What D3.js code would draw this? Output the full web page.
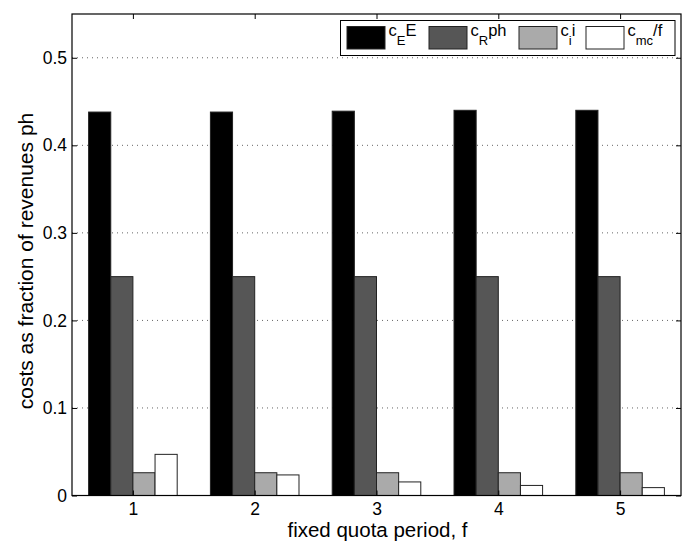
<!DOCTYPE html>
<html>
<head>
<meta charset="utf-8">
<script src="https://cdn.jsdelivr.net/npm/d3@7"></script>
<style>
  html, body { margin: 0; padding: 0; background: #fff; }
  svg { display: block; font-family: "Liberation Sans", Arial, Helvetica, sans-serif; }
</style>
</head>
<body>
<svg id="chart" width="685" height="551"></svg>
<script>
// Fixed quota periods on the x axis
const periods = [1, 2, 3, 4, 5];

// Cost components as fraction of revenues ph
const costEnergy   = [0.438, 0.438, 0.439, 0.440, 0.440];    // c_E E
const costRevenue  = [0.250, 0.250, 0.250, 0.250, 0.250];    // c_R ph
const costInterest = [0.026, 0.026, 0.026, 0.026, 0.026];    // c_i i
const costMC       = [0.047, 0.0235, 0.0155, 0.0115, 0.009]; // c_mc / f

const seriesValues = [costEnergy, costRevenue, costInterest, costMC];
const seriesFills = ["#000000", "#565656", "#aaaaaa", "#ffffff"];
const legendLabels = [
  { base: "c", sub: "E", rest: "E" },
  { base: "c", sub: "R", rest: "ph" },
  { base: "c", sub: "i", rest: "i" },
  { base: "c", sub: "mc", rest: "/f" }
];
const yTicks = [0, 0.1, 0.2, 0.3, 0.4, 0.5];
const yTickLabels = ["0", "0.1", "0.2", "0.3", "0.4", "0.5"];

const svg = d3.select("#chart");
const plot = { left: 72, right: 681, top: 14, bottom: 495.5 };

const x = d3.scaleLinear().domain([0.5, 5.5]).range([plot.left, plot.right]);
const y = d3.scaleLinear().domain([0, 0.55]).range([plot.bottom, plot.top]);

// grouped bar geometry (in x-axis units)
const groupWidth = 4 / 5.5;
const barWidth = groupWidth / seriesValues.length;

// dotted horizontal grid
svg.append("g")
  .selectAll("line")
  .data(yTicks.filter(d => d > 0))
  .join("line")
  .attr("x1", plot.left).attr("x2", plot.right)
  .attr("y1", d => y(d)).attr("y2", d => y(d))
  .attr("stroke", "#666")
  .attr("stroke-width", 1)
  .attr("stroke-dasharray", "1,4");

// bars
const barData = [];
seriesValues.forEach((vals, s) => {
  vals.forEach((v, i) => barData.push({ s, p: periods[i], v }));
});
svg.append("g")
  .selectAll("rect")
  .data(barData)
  .join("rect")
  .attr("x", d => x(d.p - groupWidth / 2 + d.s * barWidth))
  .attr("width", d => x(d.p - groupWidth / 2 + (d.s + 1) * barWidth) - x(d.p - groupWidth / 2 + d.s * barWidth))
  .attr("y", d => y(d.v))
  .attr("height", d => y(0) - y(d.v))
  .attr("fill", d => seriesFills[d.s])
  .attr("stroke", "#222")
  .attr("stroke-width", 1);

// axes with inward ticks, mirrored on the opposite sides
const tickLen = 5;
const bottomAxis = d3.axisBottom(x).tickValues(periods).tickSize(-tickLen).tickPadding(7.5).tickFormat(d3.format("d"));
const topAxis = d3.axisTop(x).tickValues(periods).tickSize(-tickLen).tickFormat("");
const leftAxis = d3.axisLeft(y).tickValues(yTicks).tickSize(-tickLen).tickPadding(5)
  .tickFormat((d, i) => yTickLabels[i]);
const rightAxis = d3.axisRight(y).tickValues(yTicks).tickSize(-tickLen).tickFormat("");

function styleAxis(g) {
  g.select(".domain").remove();
  g.selectAll(".tick line").attr("stroke", "#000").attr("stroke-width", 1);
  g.selectAll(".tick text")
    .attr("fill", "#000")
    .style("font-size", "17.5px")
    .style("font-family", "'Liberation Sans', Arial, sans-serif");
}

svg.append("g").attr("transform", `translate(0,${plot.bottom})`).call(bottomAxis).call(styleAxis);
svg.append("g").attr("transform", `translate(0,${plot.top})`).call(topAxis).call(styleAxis);
svg.append("g").attr("transform", `translate(${plot.left},0)`).call(leftAxis).call(styleAxis);
svg.append("g").attr("transform", `translate(${plot.right},0)`).call(rightAxis).call(styleAxis);

// frame
svg.append("rect")
  .attr("x", plot.left).attr("y", plot.top)
  .attr("width", plot.right - plot.left).attr("height", plot.bottom - plot.top)
  .attr("fill", "none").attr("stroke", "#000").attr("stroke-width", 1.2);

// axis labels
svg.append("text")
  .attr("x", (plot.left + plot.right) / 2 + 1)
  .attr("y", 537)
  .attr("text-anchor", "middle")
  .style("font-size", "20.5px")
  .text("fixed quota period, f");

svg.append("text")
  .attr("transform", "translate(33,261) rotate(-90)")
  .attr("text-anchor", "middle")
  .style("font-size", "21px")
  .text("costs as fraction of revenues ph");

// legend
const legend = svg.append("g");
legend.append("rect")
  .attr("x", 340.5).attr("y", 20.5).attr("width", 334.5).attr("height", 35)
  .attr("fill", "#fff").attr("stroke", "#000").attr("stroke-width", 1);

const swatchX = [347, 429, 519, 586];
const items = legend.selectAll("g.item")
  .data(legendLabels)
  .join("g")
  .attr("class", "item")
  .attr("transform", (d, i) => `translate(${swatchX[i]},0)`);

items.append("rect")
  .attr("x", 0).attr("y", 26.5).attr("width", 38).attr("height", 22.5)
  .attr("fill", (d, i) => seriesFills[i])
  .attr("stroke", "#222").attr("stroke-width", 1);

const labels = items.append("text")
  .attr("x", 41.5).attr("y", 36)
  .style("font-size", "16.5px");
labels.append("tspan").text(d => d.base);
labels.append("tspan").attr("dy", 9).style("font-size", "13px").text(d => d.sub);
labels.append("tspan").attr("dy", -9).style("font-size", "16.5px").text(d => d.rest);
</script>
</body>
</html>
